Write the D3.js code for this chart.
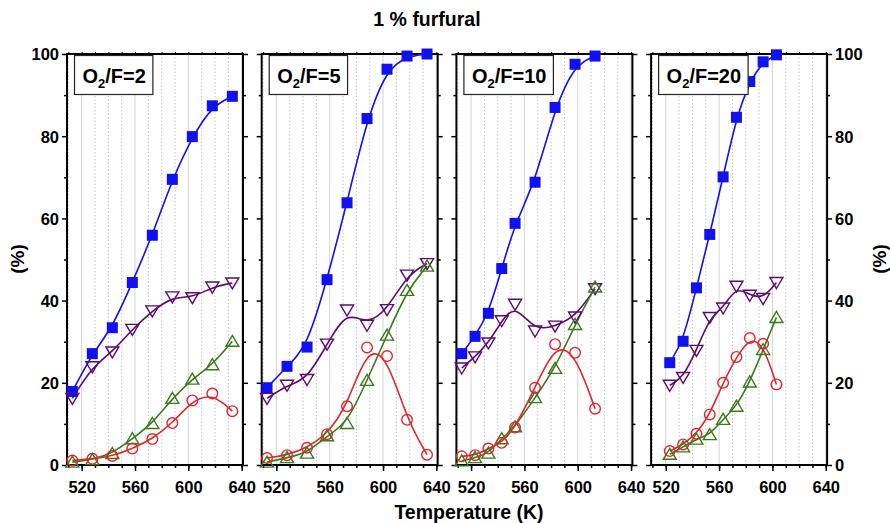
<!DOCTYPE html>
<html>
<head>
<meta charset="utf-8">
<script src="https://cdn.jsdelivr.net/npm/d3@7/dist/d3.min.js"></script>
<style>
  html, body { margin: 0; padding: 0; background: #fff; }
  svg { display: block; }
  text { font-family: "Liberation Sans", Arial, sans-serif; font-weight: bold; fill: #000; }
</style>
</head>
<body>
<svg id="chart" width="890" height="523"></svg>
<script>
// ---- data -------------------------------------------------------------
const panelLabels = ["2", "5", "10", "20"];          // O2/F ratio of each panel
const xTicks = [520, 560, 600, 640];
const yTicks = [0, 20, 40, 60, 80, 100];

const temp1 = [513, 528, 543, 558, 573, 588, 603, 618, 633];
const temp2 = [513, 528, 543, 558, 573, 588, 603, 618, 633];
const temp3 = [513, 523, 533, 543, 553, 568, 583, 598, 613];
const temp4 = [523, 533, 543, 553, 563, 573, 583, 593, 603];

// filled squares
const square1 = [17.9, 27.1, 33.4, 44.4, 55.9, 69.5, 79.9, 87.4, 89.7];
const square2 = [18.8, 24.0, 28.7, 45.1, 63.8, 84.3, 96.3, 99.5, 100];
const square3 = [27.1, 31.3, 36.9, 47.8, 58.8, 68.8, 87.0, 97.5, 99.5];
const square4 = [24.9, 30.1, 43.1, 56.1, 70.1, 84.6, 93.3, 98.1, 99.8];
// open down-triangles
const down1 = [16.2, 23.9, 27.5, 33.0, 37.5, 40.9, 40.7, 43.3, 44.3];
const down2 = [16.2, 19.4, 20.8, 29.4, 37.7, 34.0, 37.8, 46.2, 49.0];
const down3 = [23.6, 26.3, 29.7, 35.1, 39.1, 32.6, 33.8, 36.0, 42.9];
const down4 = [19.4, 21.3, 27.9, 35.9, 38.2, 43.5, 41.3, 40.5, 44.4];
// open up-triangles
const up1 = [0.7, 1.3, 2.8, 6.4, 10.1, 16.2, 20.9, 24.4, 30.1];
const up2 = [0.7, 1.8, 2.9, 7.1, 10.1, 20.6, 31.6, 42.5, 48.4];
const up3 = [1.0, 1.8, 2.9, 6.4, 9.3, 16.4, 23.5, 34.2, 43.3];
const up4 = [2.6, 4.4, 6.3, 7.4, 11.1, 14.3, 20.2, 28.1, 35.9];
// open circles
const circle1 = [1.1, 1.5, 2.2, 4.0, 6.3, 10.2, 15.7, 17.4, 13.1];
const circle2 = [1.7, 2.4, 4.2, 7.5, 14.3, 28.6, 26.5, 11.0, 2.5];
const circle3 = [2.1, 2.4, 4.0, 5.4, 9.1, 18.8, 29.4, 27.3, 13.7];
const circle4 = [3.4, 5.0, 7.6, 12.3, 20.0, 26.3, 30.9, 29.5, 19.6];

// ---- layout -------------------------------------------------------------
const panels = [
  { temps: temp1, square: square1, down: down1, up: up1, circle: circle1 },
  { temps: temp2, square: square2, down: down2, up: up2, circle: circle2 },
  { temps: temp3, square: square3, down: down3, up: up3, circle: circle3 },
  { temps: temp4, square: square4, down: down4, up: up4, circle: circle4 }
];

const panelLeft0 = 67, panelStep = 194.7, panelW = 176;
const plotTop = 54, plotBottom = 465;

const colors = { square: "#1010f0", down: "#5e0a6e", up: "#3b7a1c", circle: "#e0252a" };

const svg = d3.select("#chart");

const y = d3.scaleLinear().domain([0, 100]).range([plotBottom, plotTop]);

const trianglePath = (dir) => {
  const w = 6.5, h = 11;
  return dir > 0
    ? `M0,${-h / 2 - 0.5}L${w},${h / 2 - 0.5}L${-w},${h / 2 - 0.5}Z`
    : `M0,${h / 2 + 0.5}L${w},${-h / 2 + 0.5}L${-w},${-h / 2 + 0.5}Z`;
};

panels.forEach((p, i) => {
  const left = panelLeft0 + i * panelStep;
  const x = d3.scaleLinear().domain([509, 641]).range([left, left + panelW]);
  const g = svg.append("g");

  // vertical grid every 10 K: solid at labelled temperatures, dotted between
  const gridVals = d3.range(510, 641, 10);
  g.append("g").selectAll("line").data(gridVals).join("line")
    .attr("x1", d => x(d)).attr("x2", d => x(d))
    .attr("y1", plotTop).attr("y2", plotBottom)
    .attr("stroke", d => d % 40 === 0 ? "#d4d4d4" : "#c4c4c4")
    .attr("stroke-width", 1)
    .attr("stroke-dasharray", d => d % 40 === 0 ? null : "1.5,2");

  // bottom axis: major and minor ticks
  const xAxisMajor = d3.axisBottom(x).tickValues(xTicks).tickSize(6).tickSizeOuter(0).tickFormat(d3.format("d"));
  const xAxisMinor = d3.axisBottom(x).tickValues(gridVals).tickSize(3).tickSizeOuter(0).tickFormat("");
  const xa = g.append("g").attr("transform", `translate(0,${plotBottom})`).call(xAxisMinor);
  const xb = g.append("g").attr("transform", `translate(0,${plotBottom})`).call(xAxisMajor);
  [xa, xb].forEach(a => {
    a.select(".domain").remove();
    a.selectAll(".tick line").attr("stroke", "#000").attr("stroke-width", 1.5);
  });
  xb.selectAll(".tick text").attr("dy", 0).attr("y", 28).style("font-size", "16.5px");

  // top axis: short ticks
  const xTop = d3.axisTop(x).tickValues(gridVals).tickSize(2).tickSizeOuter(0).tickFormat("");
  const xt = g.append("g").attr("transform", `translate(0,${plotTop})`).call(xTop);
  xt.select(".domain").remove();
  xt.selectAll(".tick line").attr("stroke", "#000").attr("stroke-width", 1);

  // left and right axes with outward ticks
  const yMinor = d3.range(10, 100, 20);
  const leftMajor = d3.axisLeft(y).tickValues(yTicks).tickSize(5).tickSizeOuter(0)
    .tickFormat(i === 0 ? d3.format("d") : "");
  const leftMinor = d3.axisLeft(y).tickValues(yMinor).tickSize(3).tickSizeOuter(0).tickFormat("");
  const rightMajor = d3.axisRight(y).tickValues(yTicks).tickSize(5).tickSizeOuter(0)
    .tickFormat(i === 3 ? d3.format("d") : "");
  const rightMinor = d3.axisRight(y).tickValues(yMinor).tickSize(3).tickSizeOuter(0).tickFormat("");
  [[leftMajor, left], [leftMinor, left], [rightMajor, left + panelW], [rightMinor, left + panelW]].forEach(([ax, pos]) => {
    const a = g.append("g").attr("transform", `translate(${pos},0)`).call(ax);
    a.select(".domain").remove();
    a.selectAll(".tick line").attr("stroke", "#000").attr("stroke-width", 1.5);
    a.selectAll(".tick text").style("font-size", "16.5px").attr("dy", "0.36em");
  });

  // frame
  g.append("rect").attr("x", left).attr("y", plotTop)
    .attr("width", panelW).attr("height", plotBottom - plotTop)
    .attr("fill", "none").attr("stroke", "#000").attr("stroke-width", 2);

  // smoothed series curves
  const line = d3.line().x(d => x(d[0])).y(d => y(d[1])).curve(d3.curveBasis);
  ["square", "down", "up", "circle"].forEach(key => {
    const pts = p.temps.map((t, j) => [t, p[key][j]]);
    g.append("path").datum(pts).attr("d", line)
      .attr("fill", "none").attr("stroke", colors[key]).attr("stroke-width", 1.6);
  });

  // markers
  const sq = p.temps.map((t, j) => [t, p.square[j]]);
  g.append("g").selectAll("rect").data(sq).join("rect")
    .attr("x", d => x(d[0]) - 5.5).attr("y", d => y(d[1]) - 5.5)
    .attr("width", 11).attr("height", 11).attr("fill", colors.square);

  const dn = p.temps.map((t, j) => [t, p.down[j]]);
  g.append("g").selectAll("path").data(dn).join("path")
    .attr("transform", d => `translate(${x(d[0])},${y(d[1])})`)
    .attr("d", trianglePath(-1))
    .attr("fill", "none").attr("stroke", colors.down).attr("stroke-width", 1.4);

  const upPts = p.temps.map((t, j) => [t, p.up[j]]);
  g.append("g").selectAll("path").data(upPts).join("path")
    .attr("transform", d => `translate(${x(d[0])},${y(d[1])})`)
    .attr("d", trianglePath(1))
    .attr("fill", "none").attr("stroke", colors.up).attr("stroke-width", 1.4);

  const ci = p.temps.map((t, j) => [t, p.circle[j]]);
  g.append("g").selectAll("circle").data(ci).join("circle")
    .attr("cx", d => x(d[0])).attr("cy", d => y(d[1])).attr("r", 5.3)
    .attr("fill", "none").attr("stroke", colors.circle).attr("stroke-width", 1.4);

  // O2/F label box
  const lb = g.append("g");
  const boxX = left + 7.5, boxY = plotTop + 1.5;
  const t = lb.append("text").attr("x", boxX + 8).attr("y", boxY + 27).style("font-size", "20px");
  t.append("tspan").text("O");
  t.append("tspan").text("2").style("font-size", "13px").attr("dy", 5);
  t.append("tspan").text("/F=" + panelLabels[i]).attr("dy", -5);
  const bw = t.node().getComputedTextLength();
  lb.insert("rect", "text").attr("x", boxX).attr("y", boxY)
    .attr("width", bw + 15).attr("height", 39)
    .attr("fill", "#fff").attr("stroke", "#222").attr("stroke-width", 1.2);
});

// titles
svg.append("text").attr("x", 427).attr("y", 26).attr("text-anchor", "middle")
  .style("font-size", "19.5px").text("1 % furfural");
svg.append("text").attr("x", 469).attr("y", 519).attr("text-anchor", "middle")
  .style("font-size", "19.5px").text("Temperature (K)");
svg.append("text").attr("transform", "translate(24,259) rotate(-90)").attr("text-anchor", "middle")
  .style("font-size", "19px").text("(%)");
svg.append("text").attr("transform", "translate(886,259) rotate(-90)").attr("text-anchor", "middle")
  .style("font-size", "19px").text("(%)");
</script>
</body>
</html>
